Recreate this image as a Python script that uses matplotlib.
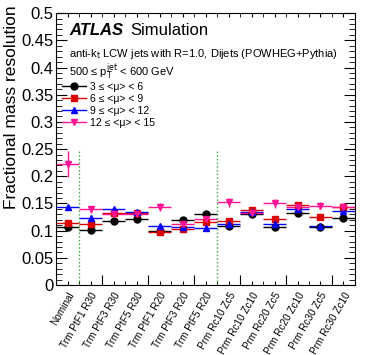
import numpy as np
import matplotlib
matplotlib.use("Agg")
import matplotlib.pyplot as plt
from matplotlib.lines import Line2D

plt.rcParams['font.family'] = ['Liberation Sans', 'DejaVu Sans']

labels = ["Nominal", "Trm PtF1 R30", "Trm PtF3 R30", "Trm PtF5 R30",
          "Trm PtF1 R20", "Trm PtF3 R20", "Trm PtF5 R20",
          "Prm Rc10 Zc5", "Prm Rc10 Zc10", "Prm Rc20 Zc5",
          "Prm Rc20 Zc10", "Prm Rc30 Zc5", "Prm Rc30 Zc10"]

mu_3_6 = [0.107, 0.102, 0.118, 0.122, 0.099, 0.119, 0.130, 0.108, 0.130, 0.107, 0.133, 0.107, 0.124]
mu_6_9 = [0.114, 0.113, 0.132, 0.132, 0.098, 0.103, 0.116, 0.117, 0.138, 0.121, 0.147, 0.125, 0.143]
mu_9_12 = [0.143, 0.124, 0.139, 0.134, 0.108, 0.106, 0.105, 0.112, 0.134, 0.113, 0.139, 0.108, 0.136]
mu_12_15 = [0.222, 0.139, 0.130, 0.130, 0.143, 0.113, 0.121, 0.152, 0.133, 0.150, 0.143, 0.146, 0.144]

err_3_6 = [0.003] * 13
err_6_9 = [0.004] * 13
err_9_12 = [0.005] * 13
err_12_15 = [0.024, 0.007, 0.007, 0.007, 0.007, 0.007, 0.007, 0.008, 0.007, 0.008, 0.007, 0.007, 0.007]

series = [
    (mu_3_6, err_3_6, "black", "o", "3 ≤ <μ> < 6"),
    (mu_6_9, err_6_9, "#dd0000", "s", "6 ≤ <μ> < 9"),
    (mu_9_12, err_9_12, "#0000ff", "^", "9 ≤ <μ> < 12"),
    (mu_12_15, err_12_15, "#ff1493", "v", "12 ≤ <μ> < 15"),
]

fig = plt.figure(figsize=(3.74, 3.55), dpi=100)
ax = fig.add_axes([0.151, 0.197, 0.798, 0.766])

x = np.arange(len(labels)) + 0.5
handles = []
for vals, errs, col, mk, lab in series:
    ax.errorbar(x, vals, yerr=errs, xerr=0.5, fmt=mk, color=col, ms=5,
                elinewidth=1, capsize=0)
    handles.append(Line2D([], [], color=col, marker=mk, ms=5, lw=1, label=lab))

ax.vlines([1, 7], 0, 0.25, colors="#33aa33", linestyles=":", lw=1)

ax.set_xlim(0, 13)
ax.set_ylim(0, 0.5)
ax.set_xticks(x)
ax.set_xticklabels(labels, rotation=60, ha="right", rotation_mode="anchor", fontsize=7.2)
ax.set_xticks(np.arange(0, 14, 1), minor=True)
ax.set_yticks(np.arange(0, 0.51, 0.05))
ax.set_yticklabels(["0", "0.05", "0.1", "0.15", "0.2", "0.25", "0.3", "0.35", "0.4", "0.45", "0.5"], fontsize=12)
ax.set_yticks(np.arange(0, 0.501, 0.01), minor=True)
ax.tick_params(which="both", direction="in", top=True, right=True)
ax.tick_params(axis="y", which="major", length=8, pad=2)
ax.tick_params(axis="y", which="minor", length=4)
ax.tick_params(axis="x", which="both", length=3, pad=4)
sec = ax.secondary_xaxis("bottom")
sec.set_xticks(np.arange(2, 13, 2))
sec.tick_params(direction="in", length=7, labelbottom=False)
sec.spines["bottom"].set_visible(False)

fig.text(12 / 374, 1 - 5 / 355, "Fractional mass resolution", rotation=90,
         ha="center", va="top", fontsize=12.5)

ax.text(0.042, 0.919, "ATLAS", transform=ax.transAxes, fontsize=12,
        fontweight="bold", fontstyle="italic", va="baseline")
ax.text(0.246, 0.919, "Simulation", transform=ax.transAxes, fontsize=12, va="baseline")
ax.text(0.042, 0.838, r"anti-k$_{\mathrm{t}}$ LCW jets with R=1.0, Dijets (POWHEG+Pythia)",
        transform=ax.transAxes, fontsize=8, va="baseline")
ax.text(0.042, 0.772, r"500 ≤ p$_{\mathrm{T}}^{\mathrm{jet}}$ < 600 GeV",
        transform=ax.transAxes, fontsize=8, va="baseline")

ax.legend(handles=handles, loc="upper left", bbox_to_anchor=(0.018, 0.748), frameon=False,
          fontsize=7.5, handlelength=2.3, labelspacing=0.2, handletextpad=0.4,
          borderaxespad=0, borderpad=0)

fig.savefig("out.png", dpi=100)
